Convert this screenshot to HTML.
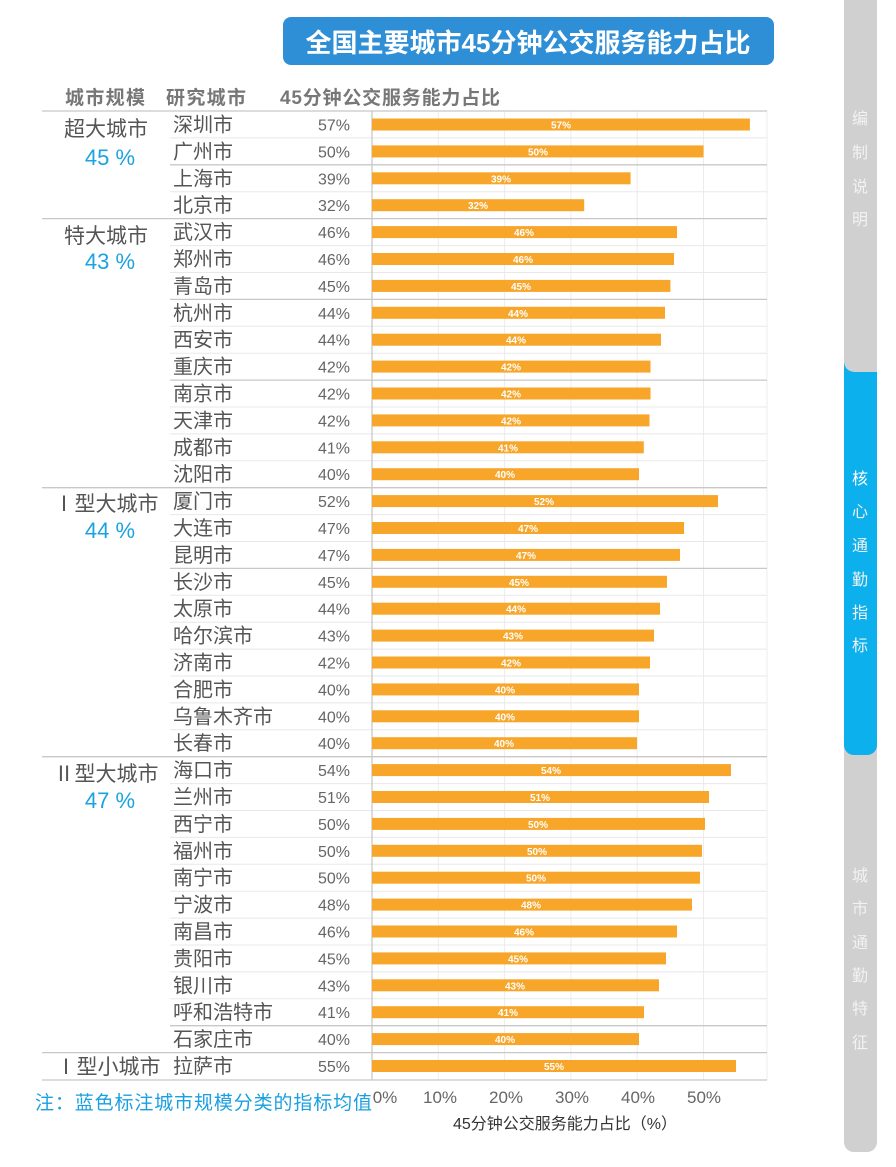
<!DOCTYPE html>
<html><head><meta charset="utf-8"><style>
body{margin:0;background:#fff}
svg{display:block;font-family:"Liberation Sans","Noto Sans CJK SC",sans-serif}
.c{font-size:20px;fill:#555}
.p{font-size:16px;fill:#666;text-anchor:end}
.b{fill:#F7A62A}
.l{font-size:10px;font-weight:bold;fill:#fff;text-anchor:middle}
.g{font-size:21px;fill:#555;text-anchor:middle}
.v{font-size:22px;fill:#1aa3e0;text-anchor:middle}
.s{font-size:16px;fill:#f2f2f2;text-anchor:middle}
</style></head><body>
<svg width="896" height="1167" viewBox="0 0 896 1167">
<rect x="844" y="0" width="33" height="1152" rx="10" fill="#d0d0d0"/>
<rect x="844" y="0" width="33" height="20" fill="#d0d0d0"/>
<rect x="844" y="360" width="33" height="395" rx="10" fill="#0bb0ec"/>
<rect x="844" y="360" width="33" height="30" fill="#0bb0ec"/>
<path d="M844 355 L877 355 L877 372 L856 372 Q844 372 844 360 Z" fill="#d0d0d0"/>
<g class="s"><text x="860" y="124">编</text><text x="860" y="158">制</text><text x="860" y="192">说</text><text x="860" y="225">明</text>
<text x="860" y="484" fill="#fff">核</text><text x="860" y="517">心</text><text x="860" y="551">通</text><text x="860" y="585">勤</text><text x="860" y="618">指</text><text x="860" y="651">标</text>
<text x="860" y="881">城</text><text x="860" y="914">市</text><text x="860" y="948">通</text><text x="860" y="981">勤</text><text x="860" y="1014">特</text><text x="860" y="1048">征</text></g>
<rect x="283" y="17" width="491" height="48" rx="8" fill="#2f8fd6"/>
<text x="528" y="52" text-anchor="middle" font-size="26" font-weight="bold" fill="#fff">全国主要城市45分钟公交服务能力占比</text>
<g font-size="19" font-weight="bold" fill="#777"><text x="65" y="104" textLength="80">城市规模</text><text x="166" y="104" textLength="80">研究城市</text><text x="280" y="104" textLength="220">45分钟公交服务能力占比</text></g>
<g stroke="#ececec" stroke-width="1"><line x1="438.3" y1="111" x2="438.3" y2="1080"/><line x1="504.6" y1="111" x2="504.6" y2="1080"/><line x1="570.9" y1="111" x2="570.9" y2="1080"/><line x1="637.2" y1="111" x2="637.2" y2="1080"/><line x1="703.5" y1="111" x2="703.5" y2="1080"/><line x1="767" y1="111" x2="767" y2="1080"/></g>
<g stroke="#e8e8e8">
<line x1="170" y1="137.9" x2="767" y2="137.9"/><line x1="170" y1="191.7" x2="767" y2="191.7"/><line x1="170" y1="245.6" x2="767" y2="245.6"/><line x1="170" y1="272.5" x2="767" y2="272.5"/><line x1="170" y1="326.3" x2="767" y2="326.3"/><line x1="170" y1="353.2" x2="767" y2="353.2"/><line x1="170" y1="407" x2="767" y2="407"/><line x1="170" y1="433.9" x2="767" y2="433.9"/><line x1="170" y1="460.8" x2="767" y2="460.8"/><line x1="170" y1="514.6" x2="767" y2="514.6"/><line x1="170" y1="541.5" x2="767" y2="541.5"/><line x1="170" y1="595.3" x2="767" y2="595.3"/><line x1="170" y1="622.2" x2="767" y2="622.2"/><line x1="170" y1="649.1" x2="767" y2="649.1"/><line x1="170" y1="676" x2="767" y2="676"/><line x1="170" y1="702.9" x2="767" y2="702.9"/><line x1="170" y1="729.8" x2="767" y2="729.8"/><line x1="170" y1="783.6" x2="767" y2="783.6"/><line x1="170" y1="810.5" x2="767" y2="810.5"/><line x1="170" y1="837.4" x2="767" y2="837.4"/><line x1="170" y1="864.3" x2="767" y2="864.3"/><line x1="170" y1="891.2" x2="767" y2="891.2"/><line x1="170" y1="918.1" x2="767" y2="918.1"/><line x1="170" y1="945" x2="767" y2="945"/><line x1="170" y1="971.9" x2="767" y2="971.9"/><line x1="170" y1="998.8" x2="767" y2="998.8"/></g>
<g stroke="#c8c8c8" stroke-width="1.3">
<line x1="42" y1="111" x2="767" y2="111"/><line x1="170" y1="164.8" x2="767" y2="164.8"/><line x1="42" y1="218.6" x2="767" y2="218.6"/><line x1="170" y1="299.4" x2="767" y2="299.4"/><line x1="170" y1="380.1" x2="767" y2="380.1"/><line x1="42" y1="487.7" x2="767" y2="487.7"/><line x1="170" y1="568.4" x2="767" y2="568.4"/><line x1="42" y1="756.7" x2="767" y2="756.7"/><line x1="170" y1="1025.7" x2="767" y2="1025.7"/><line x1="42" y1="1052.6" x2="767" y2="1052.6"/><line x1="42" y1="1080" x2="767" y2="1080"/>
<line x1="372" y1="111" x2="372" y2="1080"/></g>
<text class="g" x="106" y="136">超大城市</text><text class="v" x="110" y="165">45 %</text>
<text class="g" x="106" y="243">特大城市</text><text class="v" x="110" y="269">43 %</text>
<text class="g" x="106" y="511">Ⅰ型大城市</text><text class="v" x="110" y="538">44 %</text>
<text class="g" x="106" y="781">Ⅱ型大城市</text><text class="v" x="110" y="808">47 %</text>
<text class="g" x="108" y="1074">Ⅰ型小城市</text>
<g transform="translate(0,124.5)"><text class="c" x="173" y="7">深圳市</text><text class="p" x="350" y="6">57%</text><rect class="b" x="372" y="-6" width="377.9" height="12"/><text class="l" x="561" y="4">57%</text></g>
<g transform="translate(0,151.4)"><text class="c" x="173" y="7">广州市</text><text class="p" x="350" y="6">50%</text><rect class="b" x="372" y="-6" width="331.5" height="12"/><text class="l" x="538" y="4">50%</text></g>
<g transform="translate(0,178.3)"><text class="c" x="173" y="7">上海市</text><text class="p" x="350" y="6">39%</text><rect class="b" x="372" y="-6" width="258.6" height="12"/><text class="l" x="501" y="4">39%</text></g>
<g transform="translate(0,205.2)"><text class="c" x="173" y="7">北京市</text><text class="p" x="350" y="6">32%</text><rect class="b" x="372" y="-6" width="212.2" height="12"/><text class="l" x="478" y="4">32%</text></g>
<g transform="translate(0,232.1)"><text class="c" x="173" y="7">武汉市</text><text class="p" x="350" y="6">46%</text><rect class="b" x="372" y="-6" width="305" height="12"/><text class="l" x="524" y="4">46%</text></g>
<g transform="translate(0,259)"><text class="c" x="173" y="7">郑州市</text><text class="p" x="350" y="6">46%</text><rect class="b" x="372" y="-6" width="302" height="12"/><text class="l" x="523" y="4">46%</text></g>
<g transform="translate(0,285.9)"><text class="c" x="173" y="7">青岛市</text><text class="p" x="350" y="6">45%</text><rect class="b" x="372" y="-6" width="298.4" height="12"/><text class="l" x="521" y="4">45%</text></g>
<g transform="translate(0,312.8)"><text class="c" x="173" y="7">杭州市</text><text class="p" x="350" y="6">44%</text><rect class="b" x="372" y="-6" width="293" height="12"/><text class="l" x="518" y="4">44%</text></g>
<g transform="translate(0,339.7)"><text class="c" x="173" y="7">西安市</text><text class="p" x="350" y="6">44%</text><rect class="b" x="372" y="-6" width="289" height="12"/><text class="l" x="516" y="4">44%</text></g>
<g transform="translate(0,366.6)"><text class="c" x="173" y="7">重庆市</text><text class="p" x="350" y="6">42%</text><rect class="b" x="372" y="-6" width="278.5" height="12"/><text class="l" x="511" y="4">42%</text></g>
<g transform="translate(0,393.5)"><text class="c" x="173" y="7">南京市</text><text class="p" x="350" y="6">42%</text><rect class="b" x="372" y="-6" width="278.5" height="12"/><text class="l" x="511" y="4">42%</text></g>
<g transform="translate(0,420.4)"><text class="c" x="173" y="7">天津市</text><text class="p" x="350" y="6">42%</text><rect class="b" x="372" y="-6" width="277.5" height="12"/><text class="l" x="511" y="4">42%</text></g>
<g transform="translate(0,447.3)"><text class="c" x="173" y="7">成都市</text><text class="p" x="350" y="6">41%</text><rect class="b" x="372" y="-6" width="271.8" height="12"/><text class="l" x="508" y="4">41%</text></g>
<g transform="translate(0,474.2)"><text class="c" x="173" y="7">沈阳市</text><text class="p" x="350" y="6">40%</text><rect class="b" x="372" y="-6" width="267" height="12"/><text class="l" x="505" y="4">40%</text></g>
<g transform="translate(0,501.1)"><text class="c" x="173" y="7">厦门市</text><text class="p" x="350" y="6">52%</text><rect class="b" x="372" y="-6" width="346" height="12"/><text class="l" x="544" y="4">52%</text></g>
<g transform="translate(0,528)"><text class="c" x="173" y="7">大连市</text><text class="p" x="350" y="6">47%</text><rect class="b" x="372" y="-6" width="312" height="12"/><text class="l" x="528" y="4">47%</text></g>
<g transform="translate(0,554.9)"><text class="c" x="173" y="7">昆明市</text><text class="p" x="350" y="6">47%</text><rect class="b" x="372" y="-6" width="308" height="12"/><text class="l" x="526" y="4">47%</text></g>
<g transform="translate(0,581.8)"><text class="c" x="173" y="7">长沙市</text><text class="p" x="350" y="6">45%</text><rect class="b" x="372" y="-6" width="295" height="12"/><text class="l" x="519" y="4">45%</text></g>
<g transform="translate(0,608.7)"><text class="c" x="173" y="7">太原市</text><text class="p" x="350" y="6">44%</text><rect class="b" x="372" y="-6" width="288" height="12"/><text class="l" x="516" y="4">44%</text></g>
<g transform="translate(0,635.6)"><text class="c" x="173" y="7">哈尔滨市</text><text class="p" x="350" y="6">43%</text><rect class="b" x="372" y="-6" width="282" height="12"/><text class="l" x="513" y="4">43%</text></g>
<g transform="translate(0,662.5)"><text class="c" x="173" y="7">济南市</text><text class="p" x="350" y="6">42%</text><rect class="b" x="372" y="-6" width="278" height="12"/><text class="l" x="511" y="4">42%</text></g>
<g transform="translate(0,689.4)"><text class="c" x="173" y="7">合肥市</text><text class="p" x="350" y="6">40%</text><rect class="b" x="372" y="-6" width="267" height="12"/><text class="l" x="505" y="4">40%</text></g>
<g transform="translate(0,716.3)"><text class="c" x="173" y="7">乌鲁木齐市</text><text class="p" x="350" y="6">40%</text><rect class="b" x="372" y="-6" width="267" height="12"/><text class="l" x="505" y="4">40%</text></g>
<g transform="translate(0,743.2)"><text class="c" x="173" y="7">长春市</text><text class="p" x="350" y="6">40%</text><rect class="b" x="372" y="-6" width="265" height="12"/><text class="l" x="504" y="4">40%</text></g>
<g transform="translate(0,770.1)"><text class="c" x="173" y="7">海口市</text><text class="p" x="350" y="6">54%</text><rect class="b" x="372" y="-6" width="359" height="12"/><text class="l" x="551" y="4">54%</text></g>
<g transform="translate(0,797)"><text class="c" x="173" y="7">兰州市</text><text class="p" x="350" y="6">51%</text><rect class="b" x="372" y="-6" width="337" height="12"/><text class="l" x="540" y="4">51%</text></g>
<g transform="translate(0,823.9)"><text class="c" x="173" y="7">西宁市</text><text class="p" x="350" y="6">50%</text><rect class="b" x="372" y="-6" width="333" height="12"/><text class="l" x="538" y="4">50%</text></g>
<g transform="translate(0,850.8)"><text class="c" x="173" y="7">福州市</text><text class="p" x="350" y="6">50%</text><rect class="b" x="372" y="-6" width="330" height="12"/><text class="l" x="537" y="4">50%</text></g>
<g transform="translate(0,877.7)"><text class="c" x="173" y="7">南宁市</text><text class="p" x="350" y="6">50%</text><rect class="b" x="372" y="-6" width="328" height="12"/><text class="l" x="536" y="4">50%</text></g>
<g transform="translate(0,904.6)"><text class="c" x="173" y="7">宁波市</text><text class="p" x="350" y="6">48%</text><rect class="b" x="372" y="-6" width="320" height="12"/><text class="l" x="531" y="4">48%</text></g>
<g transform="translate(0,931.5)"><text class="c" x="173" y="7">南昌市</text><text class="p" x="350" y="6">46%</text><rect class="b" x="372" y="-6" width="305" height="12"/><text class="l" x="524" y="4">46%</text></g>
<g transform="translate(0,958.4)"><text class="c" x="173" y="7">贵阳市</text><text class="p" x="350" y="6">45%</text><rect class="b" x="372" y="-6" width="294" height="12"/><text class="l" x="518" y="4">45%</text></g>
<g transform="translate(0,985.3)"><text class="c" x="173" y="7">银川市</text><text class="p" x="350" y="6">43%</text><rect class="b" x="372" y="-6" width="287" height="12"/><text class="l" x="515" y="4">43%</text></g>
<g transform="translate(0,1012.2)"><text class="c" x="173" y="7">呼和浩特市</text><text class="p" x="350" y="6">41%</text><rect class="b" x="372" y="-6" width="272" height="12"/><text class="l" x="508" y="4">41%</text></g>
<g transform="translate(0,1039.1)"><text class="c" x="173" y="7">石家庄市</text><text class="p" x="350" y="6">40%</text><rect class="b" x="372" y="-6" width="267" height="12"/><text class="l" x="505" y="4">40%</text></g>
<g transform="translate(0,1066)"><text class="c" x="173" y="7">拉萨市</text><text class="p" x="350" y="6">55%</text><rect class="b" x="372" y="-6" width="364" height="12"/><text class="l" x="554" y="4">55%</text></g>
<g font-size="17" fill="#666" text-anchor="middle"><text x="385" y="1103">0%</text><text x="440" y="1103">10%</text><text x="506" y="1103">20%</text><text x="572" y="1103">30%</text><text x="638" y="1103">40%</text><text x="704" y="1103">50%</text></g>
<text x="565" y="1129" text-anchor="middle" font-size="16" fill="#333">45分钟公交服务能力占比（%）</text>
<text x="35" y="1109" font-size="19" fill="#1aa0e0" textLength="337">注：蓝色标注城市规模分类的指标均值</text>
</svg>
</body></html>
